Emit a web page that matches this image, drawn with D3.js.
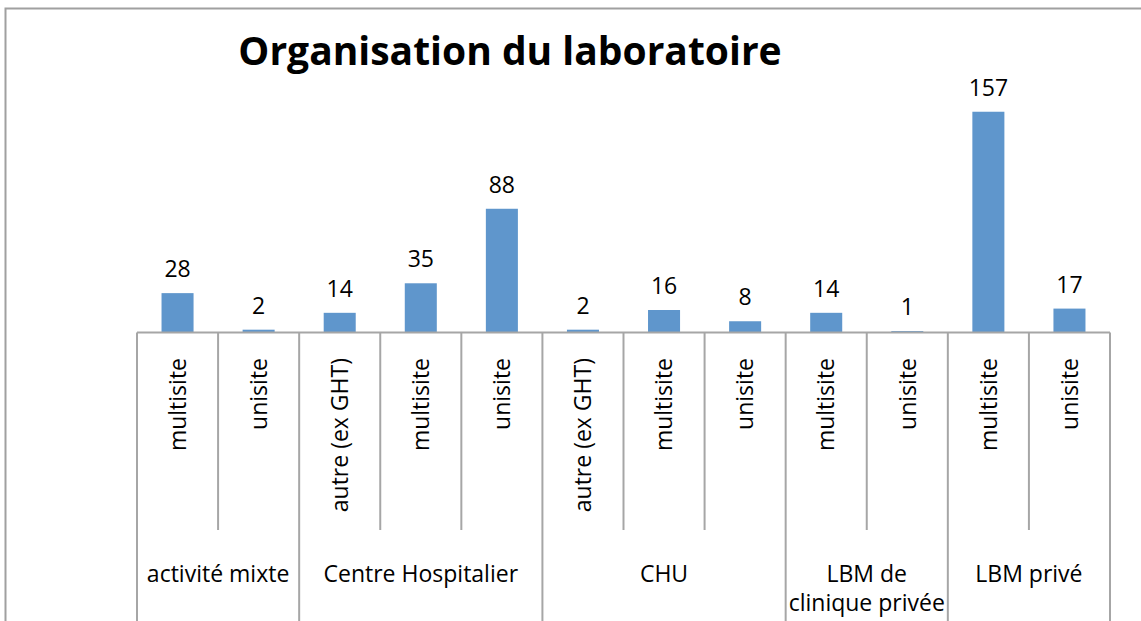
<!DOCTYPE html>
<html>
<head>
<meta charset="utf-8">
<script src="https://cdn.jsdelivr.net/npm/d3@7"></script>
<style>
  body { margin: 0; background: #fff; }
  svg { display: block; font-family: "Open Sans", sans-serif; }
</style>
</head>
<body>
<svg width="1141" height="621"></svg>
<script>
// data
var groupLabels = [["activité mixte"], ["Centre Hospitalier"], ["CHU"], ["LBM de", "clinique privée"], ["LBM privé"]];
var subLabels = ["multisite", "unisite", "autre (ex GHT)", "multisite", "unisite", "autre (ex GHT)", "multisite", "unisite", "multisite", "unisite", "multisite", "unisite"];
var groupOf = [0, 0, 1, 1, 1, 2, 2, 2, 3, 3, 4, 4];
var values = [28, 2, 14, 35, 88, 2, 16, 8, 14, 1, 157, 17];
var yMax = 180;

(function() {
var svg = d3.select("svg"),
    plotLeft = 137, plotRight = 1110,
    base = 332.5, plotTop = 79.4,
    innerBottom = 530, bottom = 640;

var x = d3.scaleBand()
  .domain(d3.range(values.length))
  .range([plotLeft, plotRight])
  .padding(0);

var y = d3.scaleLinear()
  .domain([0, yMax])
  .range([base, plotTop]);

var barW = x.bandwidth() * 0.395;

// outer frame
svg.append("rect")
  .attr("x", 5.5).attr("y", 8.5)
  .attr("width", 1200).attr("height", 700)
  .attr("fill", "none")
  .attr("stroke", "#a0a0a0")
  .attr("stroke-width", 2);

// title
svg.append("text")
  .attr("x", 510).attr("y", 65)
  .attr("text-anchor", "middle")
  .attr("font-weight", "bold")
  .attr("font-size", 39)
  .attr("fill", "#000")
  .text("Organisation du laboratoire");

// bars
var g = svg.append("g");
g.selectAll("rect.bar")
  .data(values)
  .enter().append("rect")
  .attr("class", "bar")
  .attr("x", function(d, i) { return x(i) + (x.bandwidth() - barW) / 2; })
  .attr("y", function(d) { return y(d); })
  .attr("width", barW)
  .attr("height", function(d) { return base - y(d); })
  .attr("fill", "#5f96cc");

// value labels
g.selectAll("text.val")
  .data(values)
  .enter().append("text")
  .attr("class", "val")
  .attr("x", function(d, i) { return x(i) + x.bandwidth() / 2; })
  .attr("y", function(d) { return y(d) - 16; })
  .attr("text-anchor", "middle")
  .attr("font-size", 23)
  .attr("fill", "#000")
  .text(function(d) { return d; });

// category axis lines
var axis = svg.append("g").attr("stroke", "#a6a6a6").attr("stroke-width", 2);
axis.append("line")
  .attr("x1", plotLeft).attr("x2", plotRight)
  .attr("y1", base).attr("y2", base);

d3.range(values.length + 1).forEach(function(i) {
  var xp = i < values.length ? x(i) : plotRight;
  var isGroupEdge = i === 0 || i === values.length || groupOf[i] !== groupOf[i - 1];
  axis.append("line")
    .attr("x1", xp).attr("x2", xp)
    .attr("y1", base).attr("y2", isGroupEdge ? bottom : innerBottom);
});

// sub category labels (rotated)
svg.selectAll("text.sub")
  .data(subLabels)
  .enter().append("text")
  .attr("class", "sub")
  .attr("transform", function(d, i) {
    return "translate(" + (x(i) + x.bandwidth() / 2) + ",358) rotate(-90)";
  })
  .attr("text-anchor", "end")
  .attr("dy", "0.36em")
  .attr("font-size", 23)
  .attr("fill", "#000")
  .text(function(d) { return d; });

// group labels
groupLabels.forEach(function(lines, gi) {
  var idx = d3.range(values.length).filter(function(i) { return groupOf[i] === gi; });
  var cx = (x(idx[0]) + x(idx[idx.length - 1]) + x.bandwidth()) / 2;
  var t = svg.append("text")
    .attr("text-anchor", "middle")
    .attr("font-size", 23)
    .attr("fill", "#000");
  lines.forEach(function(line, li) {
    t.append("tspan")
      .attr("x", cx)
      .attr("y", 582 + li * 29)
      .text(line);
  });
});
})();
</script>
</body>
</html>
